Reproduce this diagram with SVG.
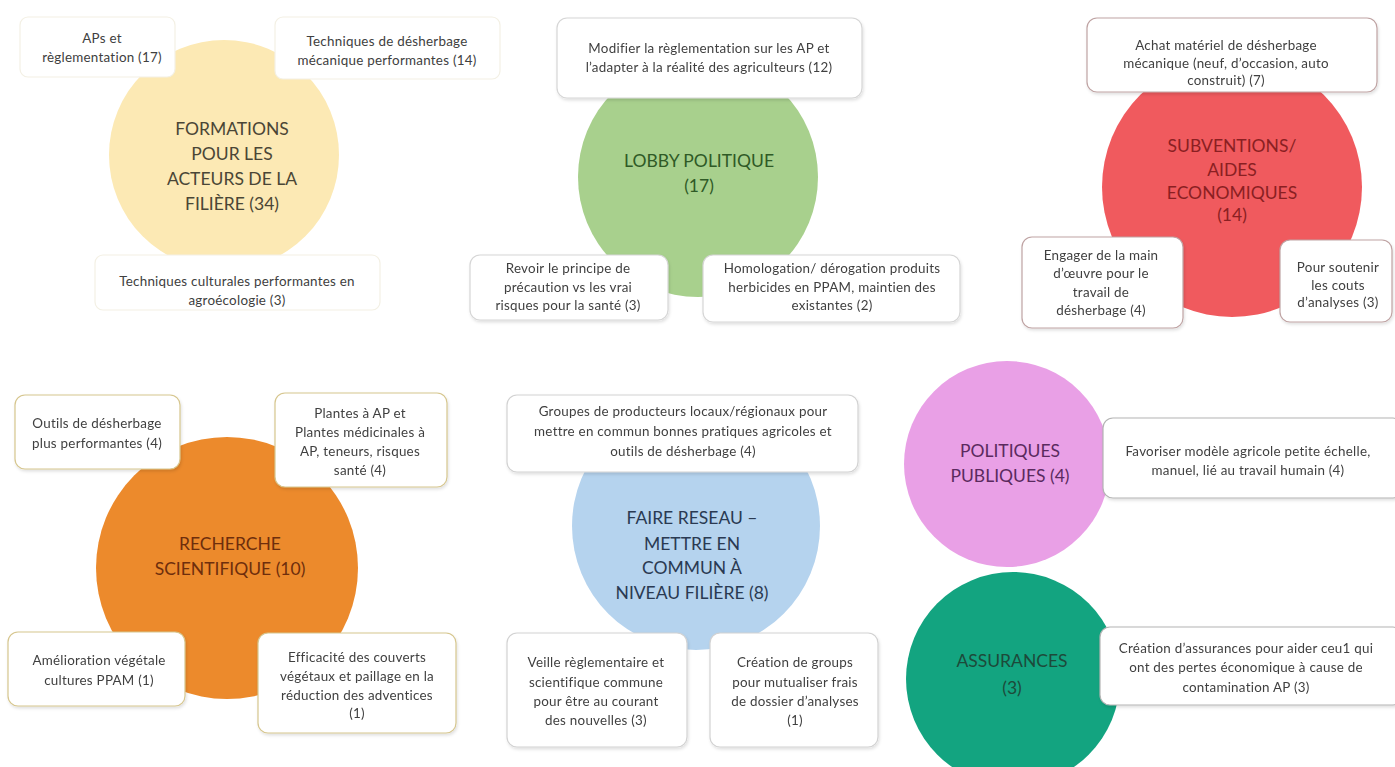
<svg xmlns="http://www.w3.org/2000/svg" width="1395" height="767" viewBox="0 0 1395 767">
<style>
text{font-family:Lato,"Open Sans","Liberation Sans",sans-serif;text-anchor:middle;dominant-baseline:central}
.b{fill:#fff;stroke-width:1.2}
.t{font-size:13.4px;fill:#404040;letter-spacing:0.25px}
.c{font-size:17.5px}
.by{stroke:#f3f0e4}.bg{stroke:#d6d6d6}.br{stroke:#bfa3a3}.bo{stroke:#d6c68e}.bb{stroke:#d2d2d2}.bp{stroke:#b4b4b4}
</style>
<defs>
<filter id="sh" x="-10%" y="-10%" width="130%" height="140%">
<feDropShadow dx="1" dy="2" stdDeviation="1.5" flood-color="#000" flood-opacity="0.12"/>
</filter>
</defs>
<rect width="1395" height="767" fill="#fff"/>
<g id="connectors"/>

<g id="formations">
<circle cx="224" cy="155" r="115" fill="#fce9b4"/>
<text class="c" fill="#4a4636"><tspan x="232" y="128">FORMATIONS</tspan><tspan x="232" y="153">POUR LES</tspan><tspan x="232" y="178">ACTEURS DE LA</tspan><tspan x="232" y="203">FILIÈRE (34)</tspan></text>
</g>
<g id="f1"><rect class="b by" x="20" y="17" width="155" height="60" rx="8"/><text class="t"><tspan x="102" y="38">APs et</tspan><tspan x="102" y="57">règlementation (17)</tspan></text></g>
<g id="f2"><rect class="b by" x="275" y="17" width="225" height="62" rx="8"/><text class="t"><tspan x="387" y="41">Techniques de désherbage</tspan><tspan x="387" y="60">mécanique performantes (14)</tspan></text></g>
<g id="f3"><rect class="b by" x="95" y="255" width="285" height="55" rx="8"/><text class="t"><tspan x="237" y="281">Techniques culturales performantes en</tspan><tspan x="237" y="300">agroécologie  (3)</tspan></text></g>

<g id="lobby">
<circle cx="698" cy="177" r="120" fill="#a8d08d"/>
<text class="c" fill="#2f5a26"><tspan x="699" y="160">LOBBY POLITIQUE</tspan><tspan x="699" y="185">(17)</tspan></text>
</g>
<g id="l1" filter="url(#sh)"><rect class="b bg" x="557" y="18" width="305" height="80" rx="10"/><text class="t"><tspan x="709" y="48">Modifier la règlementation  sur les AP et</tspan><tspan x="709" y="67">l’adapter à la réalité des agriculteurs (12)</tspan></text></g>
<g id="l2" filter="url(#sh)"><rect class="b bg" x="470" y="255" width="198" height="65" rx="10"/><text class="t"><tspan x="568" y="268">Revoir le principe  de</tspan><tspan x="568" y="287">précaution vs les vrai</tspan><tspan x="568" y="305">risques pour la santé (3)</tspan></text></g>
<g id="l3" filter="url(#sh)"><rect class="b bg" x="703" y="255" width="257" height="67" rx="10"/><text class="t"><tspan x="832" y="268">Homologation/ dérogation produits</tspan><tspan x="832" y="287">herbicides  en PPAM, maintien des</tspan><tspan x="832" y="305">existantes (2)</tspan></text></g>

<g id="subventions">
<circle cx="1232" cy="187" r="130" fill="#f05a5e"/>
<text class="c" fill="#8a1f22"><tspan x="1232" y="145">SUBVENTIONS/</tspan><tspan x="1232" y="169">AIDES</tspan><tspan x="1232" y="192">ECONOMIQUES</tspan><tspan x="1232" y="214">(14)</tspan></text>
</g>
<g id="s1" filter="url(#sh)"><rect class="b br" x="1087" y="18" width="290" height="74" rx="10"/><text class="t"><tspan x="1226" y="45">Achat matériel de désherbage</tspan><tspan x="1226" y="63">mécanique (neuf,  d’occasion,  auto</tspan><tspan x="1226" y="80">construit)  (7)</tspan></text></g>
<g id="s2" filter="url(#sh)"><rect class="b br" x="1022" y="237" width="161" height="91" rx="10"/><text class="t"><tspan x="1101" y="255">Engager de la main</tspan><tspan x="1101" y="273">d’œuvre pour le</tspan><tspan x="1101" y="292">travail de</tspan><tspan x="1101" y="310">désherbage (4)</tspan></text></g>
<g id="s3" filter="url(#sh)"><rect class="b br" x="1280" y="240" width="112" height="82" rx="10"/><text class="t"><tspan x="1338" y="267">Pour soutenir</tspan><tspan x="1338" y="285">les couts</tspan><tspan x="1338" y="302">d’analyses (3)</tspan></text></g>

<g id="recherche">
<circle cx="227" cy="568" r="131" fill="#ec8a2c"/>
<text class="c" fill="#6e2e0c"><tspan x="230" y="543">RECHERCHE</tspan><tspan x="230" y="568">SCIENTIFIQUE (10)</tspan></text>
</g>
<g id="r1" filter="url(#sh)"><rect class="b bo" x="15" y="395" width="165" height="74" rx="10"/><text class="t"><tspan x="97" y="423">Outils de désherbage</tspan><tspan x="97" y="443">plus performantes (4)</tspan></text></g>
<g id="r2" filter="url(#sh)"><rect class="b bo" x="275" y="393" width="172" height="94" rx="10"/><text class="t"><tspan x="360" y="413">Plantes à AP et</tspan><tspan x="360" y="432">Plantes médicinales  à</tspan><tspan x="360" y="451">AP, teneurs, risques</tspan><tspan x="360" y="470">santé (4)</tspan></text></g>
<g id="r3" filter="url(#sh)"><rect class="b bo" x="8" y="632" width="177" height="74" rx="10"/><text class="t"><tspan x="99" y="660">Amélioration végétale</tspan><tspan x="99" y="680">cultures PPAM (1)</tspan></text></g>
<g id="r4" filter="url(#sh)"><rect class="b bo" x="258" y="633" width="198" height="100" rx="10"/><text class="t"><tspan x="357" y="657">Efficacité des couverts</tspan><tspan x="357" y="676">végétaux et paillage en la</tspan><tspan x="357" y="695">réduction des adventices</tspan><tspan x="357" y="713">(1)</tspan></text></g>

<g id="reseau">
<circle cx="696" cy="526" r="124" fill="#b5d3ee"/>
<text class="c" fill="#2a3a52"><tspan x="692" y="517">FAIRE RESEAU –</tspan><tspan x="692" y="543">METTRE EN</tspan><tspan x="692" y="567">COMMUN  À</tspan><tspan x="692" y="592">NIVEAU FILIÈRE (8)</tspan></text>
</g>
<g id="n1" filter="url(#sh)"><rect class="b bb" x="507" y="395" width="351" height="77" rx="10"/><text class="t"><tspan x="683" y="411">Groupes de producteurs locaux/régionaux pour</tspan><tspan x="683" y="431">mettre en commun bonnes pratiques agricoles et</tspan><tspan x="683" y="451">outils de désherbage  (4)</tspan></text></g>
<g id="n2" filter="url(#sh)"><rect class="b bb" x="507" y="633" width="180" height="114" rx="10"/><text class="t"><tspan x="596" y="662">Veille règlementaire et</tspan><tspan x="596" y="682">scientifique  commune</tspan><tspan x="596" y="701">pour être au courant</tspan><tspan x="596" y="720">des nouvelles (3)</tspan></text></g>
<g id="n3" filter="url(#sh)"><rect class="b bb" x="710" y="633" width="168" height="114" rx="10"/><text class="t"><tspan x="795" y="662">Création de groups</tspan><tspan x="795" y="682">pour mutualiser frais</tspan><tspan x="795" y="701">de dossier  d’analyses</tspan><tspan x="795" y="720">(1)</tspan></text></g>

<g id="politiques">
<circle cx="1007" cy="464" r="103" fill="#e9a0e6"/>
<text class="c" fill="#5a2a5e"><tspan x="1010" y="450">POLITIQUES</tspan><tspan x="1010" y="475">PUBLIQUES (4)</tspan></text>
</g>
<g id="p1" filter="url(#sh)"><rect class="b bp" x="1103" y="418" width="300" height="80" rx="10"/><text class="t"><tspan x="1248" y="451">Favoriser modèle agricole petite échelle,</tspan><tspan x="1248" y="470">manuel, lié au travail humain (4)</tspan></text></g>

<g id="assurances">
<circle cx="1013" cy="679" r="107" fill="#13a480"/>
<text class="c" fill="#1d4a3a"><tspan x="1012" y="660">ASSURANCES</tspan><tspan x="1012" y="687">(3)</tspan></text>
</g>
<g id="a1" filter="url(#sh)"><rect class="b bp" x="1100" y="627" width="303" height="78" rx="10"/><text class="t"><tspan x="1246" y="648">Création d’assurances pour aider ceu1 qui</tspan><tspan x="1246" y="667">ont des pertes économique  à cause de</tspan><tspan x="1246" y="687">contamination AP (3)</tspan></text></g>
</svg>
